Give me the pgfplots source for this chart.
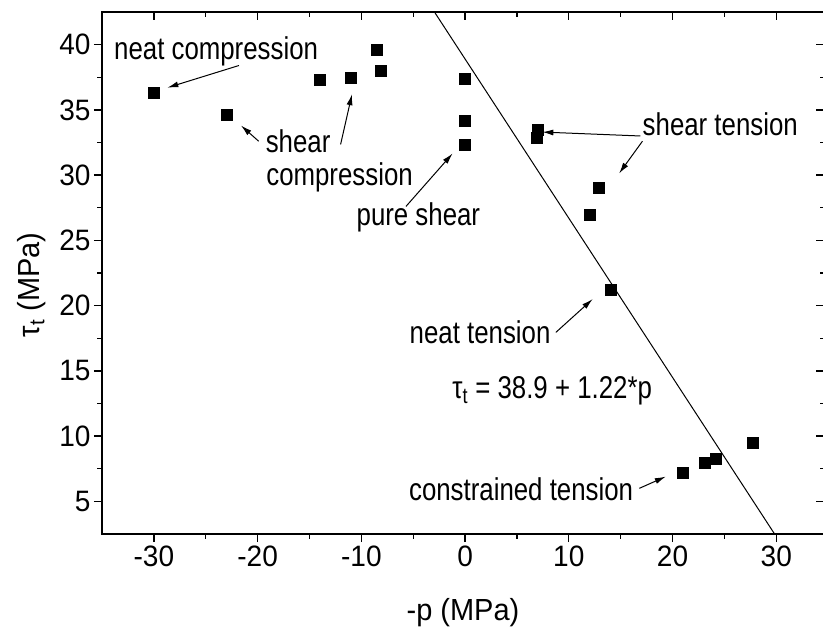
\documentclass[border=0pt]{standalone}
\usepackage{fontspec}
\setmainfont{Liberation Sans}[FakeStretch=0.95]
\newfontfamily\annfont{Liberation Sans}[FakeStretch=0.82]
\usepackage{pgfplots}
\pgfplotsset{compat=1.18}
\usetikzlibrary{arrows.meta}
\newcommand{\lblfont}{\annfont\fontsize{31.5}{34}\selectfont}
\newcommand{\tkfont}{\fontsize{29.5}{33}\selectfont}
\begin{document}
\begin{tikzpicture}
\pgfplotsset{
  common/.style={
    scale only axis, width=722pt, height=522pt,
    xmin=-35, xmax=34.6, ymin=2.5, ymax=42.5,
    xtick={-30,-20,...,30}, ytick={5,10,...,40},
    minor x tick num=1, minor y tick num=1,
    major tick length=8pt, minor tick length=4.5pt,
    axis line style={line width=1.6pt},
    every tick/.style={black, line width=1.3pt},
    /pgf/number format/assume math mode=true,
    tick label style={font=\tkfont},
  }
}
\begin{axis}[common, name=main,
  tick align=outside, xtick pos=bottom, ytick pos=left,
  xlabel={-p (MPa)}, ylabel={τ\textsubscript{t} (MPa)},
  label style={font=\fontsize{30.5}{34}\selectfont},
  xlabel style={at={(axis description cs:0.5,-0.151)}, anchor=center},
  ylabel style={at={(axis description cs:-0.098,0.477)}, anchor=center},
]
\addplot[black, line width=1pt] coordinates {(-3.5,43.17) (30.5,1.69)};
\addplot[only marks, mark=square*, mark size=5.5pt, black] coordinates {
(-30,36.3) (-23,34.6) (-14,37.3) (-11,37.5) (-8.5,39.6) (-8.1,38.0)
(0,37.4) (0,34.2) (0,32.3) (7,33.5) (6.9,32.85) (12.9,29.0) (12,27.0)
(14,21.2) (21,7.2) (23.1,7.95) (24.2,8.3) (27.7,9.5)
};
\node[font=\lblfont] at (axis cs:-24.0,39.45) {neat compression};
\node[font=\lblfont] at (axis cs:-16.1,32.6) {shear};
\node[font=\lblfont] at (axis cs:-12.1,29.8) {compression};
\node[font=\lblfont] at (axis cs:-4.5,26.75) {pure shear};
\node[font=\lblfont] at (axis cs:24.6,33.9) {shear tension};
\node[font=\lblfont] at (axis cs:1.45,17.95) {neat tension};
\node[font=\lblfont] at (axis cs:8.4,13.5) {τ\textsubscript{t} = 38.9 + 1.22*p};
\node[font=\lblfont] at (axis cs:5.4,5.95) {constrained tension};
\begin{scope}[-{Latex[length=11pt,width=6pt]}, line width=1pt]
\draw (axis cs:-21.8,38.4) -- (axis cs:-28.7,36.7);
\draw (axis cs:-19.9,32.6) -- (axis cs:-21.6,33.8);
\draw (axis cs:-12.0,32.35) -- (axis cs:-10.9,36.2);
\draw (axis cs:-5.7,27.6) -- (axis cs:-1.2,31.66);
\draw (axis cs:16.9,33.0) -- (axis cs:7.45,33.3);
\draw (axis cs:17.1,32.6) -- (axis cs:14.85,30.13);
\draw (axis cs:8.75,17.95) -- (axis cs:12.3,20.5);
\draw (axis cs:16.8,6.0) -- (axis cs:19.35,6.9);
\end{scope}
\end{axis}
\begin{axis}[common,
  tick align=inside, xtick pos=top, ytick pos=right,
  xticklabels={}, yticklabels={},
]
\end{axis}
\pgfresetboundingbox
\path (main.south west) ++(-102pt,-99pt) rectangle ++(823pt,633pt);
\end{tikzpicture}
\end{document}
